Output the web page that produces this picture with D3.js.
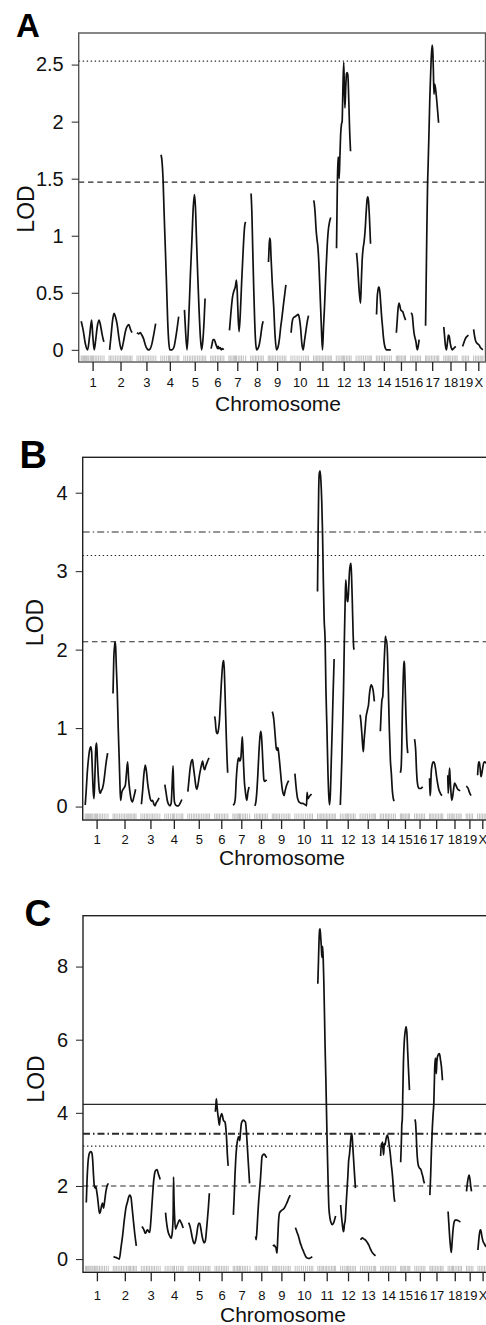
<!DOCTYPE html>
<html>
<head>
<meta charset="utf-8">
<script src="https://cdn.jsdelivr.net/npm/d3@7"></script>
<style>
body { margin: 0; background: #fff; }
svg { display: block; font-family: "Liberation Sans", Arial, Helvetica, sans-serif; }
</style>
</head>
<body>
<svg id="chart" width="486" height="1325"></svg>
<script>

// chromosomes and genetic map (cM)
var chromNames = ["1","2","3","4","5","6","7","8","9","10","11","12","13","14","15","16","17","18","19","X"];
var chromLengths = [114,115,94,90,109,66,84,63,88,88,89,74,76,75,46,50,66,67,32,47];
var gapCM = 25;

// marker positions (cM within each chromosome), drawn as the rug
var markers = [
  [0,5,11,16,22,27,33,38,45,51,57,62,70,78,86,95,104,114],
  [0,8,15,24,33,41,50,58,66,74,80,86,94,101,108,115],
  [0,9,17,26,33,41,50,58,66,75,84,94],
  [0,10,19,29,38,44,47,57,66,76,84,90],
  [0,9,18,27,35,44,52,60,69,77,86,94,101,109],
  [0,8,16,24,33,41,49,57,66],
  [0,7,15,22,29,33,38,47,55,63,72,84],
  [0,8,16,24,31,39,47,55,63],
  [0,7,13,20,28,36,45,54,63,72,80,88],
  [0,10,20,31,41,52,62,72,80,88],
  [0,8,16,22,29,37,44,52,60,68,76,83,89],
  [0,9,18,27,33,37,42,50,58,66,74],
  [0,10,19,28,37,46,55,64,70,76],
  [0,8,16,25,32,40,48,57,66,75],
  [0,6,12,18,25,33,40,46],
  [0,9,17,26,34,42,50],
  [0,6,13,21,29,37,45,53,60,66],
  [0,8,16,22,27,35,44,52,60,67],
  [0,8,16,24,32],
  [0,9,17,25,33,41,47]
];

// LOD profiles, one list of [cM, LOD] per chromosome
var lodA = [
  [[0,0.25],[10,0.17],[20,0.06],[32,0],[42,0.12],[52,0.26],[58,0.12],[65,0],[72,0.08],[80,0.2],[89,0.26],[96,0.22],[104,0.14],[113,0.07]],
  [[3,0],[10,0.12],[18,0.26],[25,0.32],[32,0.29],[40,0.23],[50,0.1],[62,0],[72,0.07],[83,0.17],[92,0.21],[99,0.22],[107,0.18],[115,0.15]],
  [[0,0.15],[8,0.14],[16,0.15],[24,0.13],[32,0.1],[42,0.04],[50,0.01],[58,0],[66,0.01],[74,0.05],[82,0.12],[93,0.23]],
  [[1,1.71],[6,1.65],[11,1.5],[16,1.22],[21,0.96],[28,0.6],[34,0.26],[40,0.06],[45,0],[55,0],[65,0.02],[72,0.08],[80,0.17],[89,0.29]],
  [[3,0.35],[9,0.15],[16,0],[24,0.25],[33,0.67],[40,0.95],[47,1.25],[53,1.36],[58,1.25],[63,0.98],[69,0.67],[76,0.35],[83,0.1],[89,0],[95,0.08],[101,0.25],[106,0.45]],
  [[2,0.01],[7,0.05],[12,0.09],[18,0.09],[24,0.06],[30,0.03],[35,0.01],[38,0.03],[42,0.01],[48,0.02],[52,0],[58,0.01],[65,0]],
  [[3,0.17],[10,0.32],[18,0.46],[26,0.52],[32,0.55],[38,0.61],[42,0.5],[46,0.3],[51,0.16],[58,0.35],[64,0.6],[70,0.82],[76,1.02],[80,1.1],[84,1.12]],
  [[2,1.37],[6,1.2],[10,0.9],[15,0.55],[20,0.25],[25,0.06],[30,0],[36,0.01],[42,0.04],[50,0.12],[56,0.2],[62,0.25]],
  [[1,0.77],[4,0.9],[7,0.98],[10,0.96],[14,0.8],[20,0.58],[27,0.38],[34,0.12],[41,0],[48,0.02],[56,0.1],[62,0.2],[68,0.28],[76,0.4],[83,0.5],[88,0.57]],
  [[1,0.15],[6,0.24],[12,0.28],[20,0.29],[28,0.3],[36,0.31],[42,0.28],[48,0.2],[55,0.05],[61,0],[68,0.08],[76,0.18],[82,0.25],[88,0.3]],
  [[1,1.31],[4,1.28],[8,1.2],[13,1.05],[18,0.96],[22,0.9],[27,0.75],[32,0.53],[36,0.35],[41,0.12],[45,0],[50,0.2],[55,0.38],[62,0.68],[68,0.9],[74,1.05],[80,1.12],[86,1.16]],
  [[1,0.89],[4,1.3],[8,1.69],[11,1.68],[14,1.5],[18,1.7],[22,1.9],[26,1.98],[29,2.0],[33,2.3],[37,2.52],[40,2.3],[43,2.12],[47,2.3],[51,2.42],[54,2.43],[58,2.4],[62,2.2],[66,1.95],[71,1.74]],
  [[2,0.85],[7,0.75],[12,0.6],[17,0.48],[22,0.41],[26,0.6],[30,0.78],[35,0.89],[40,0.95],[45,1.05],[50,1.2],[55,1.32],[58,1.34],[62,1.3],[66,1.18],[72,0.93]],
  [[1,0.31],[4,0.45],[8,0.52],[11,0.55],[14,0.55],[18,0.5],[22,0.4],[26,0.3],[31,0.2],[36,0.1],[41,0.04],[46,0.01],[51,0],[60,0],[72,0]],
  [[0,0.15],[4,0.25],[8,0.35],[13,0.41],[17,0.39],[22,0.35],[28,0.34],[33,0.33],[38,0.3],[42,0.28],[46,0.26]],
  [[1,0.32],[5,0.32],[9,0.3],[13,0.22],[18,0.14],[23,0.1],[27,0.07],[31,0.02],[34,0],[38,0.03],[43,0.09]],
  [[0,0.21],[3,0.6],[6,1.0],[10,1.45],[13,1.63],[17,1.9],[21,2.19],[25,2.4],[29,2.58],[33,2.67],[36,2.62],[39,2.45],[42,2.24],[45,2.33],[49,2.3],[54,2.22],[60,2.1],[65,1.99]],
  [[0,0.2],[4,0.12],[8,0.04],[13,0],[18,0.06],[23,0.13],[27,0.12],[32,0.06],[37,0.02],[42,0],[48,0.01],[54,0.02],[60,0.03]],
  [[2,0.03],[8,0.06],[14,0.09],[20,0.11],[26,0.12],[31,0.13]],
  [[0,0.18],[5,0.12],[10,0.08],[16,0.06],[22,0.05],[28,0.04],[34,0.02],[40,0.01],[46,0]]
];

var lodB = [
  [[0,0.02],[5,0.2],[10,0.42],[16,0.6],[22,0.72],[28,0.76],[32,0.7],[36,0.45],[40,0.2],[44,0.1],[48,0.35],[53,0.75],[57,0.81],[61,0.6],[65,0.4],[70,0.22],[75,0.17],[80,0.2],[86,0.23],[92,0.3],[98,0.42],[104,0.55],[112,0.68]],
  [[0,1.44],[4,1.9],[8,2.05],[10,2.1],[13,2.04],[17,1.75],[21,1.49],[26,1.0],[31,0.6],[35,0.25],[38,0.08],[44,0.18],[50,0.22],[56,0.24],[62,0.28],[67,0.42],[73,0.57],[78,0.35],[84,0.2],[90,0.1],[97,0.06],[104,0.12],[113,0.22]],
  [[2,0.03],[8,0.2],[14,0.4],[21,0.53],[27,0.45],[33,0.3],[40,0.18],[46,0.1],[52,0.07],[58,0.08],[64,0.03],[70,0.01],[76,0.05],[82,0.07],[90,0.11]],
  [[0,0.28],[6,0.18],[12,0.08],[18,0.03],[26,0.01],[32,0.05],[36,0.25],[41,0.52],[44,0.25],[48,0.06],[54,0.02],[60,0.01],[68,0.01],[76,0.04],[85,0.09]],
  [[0,0.19],[6,0.35],[12,0.5],[18,0.58],[23,0.6],[28,0.5],[34,0.38],[40,0.26],[45,0.22],[52,0.3],[58,0.4],[64,0.48],[70,0.55],[74,0.58],[79,0.5],[84,0.47],[90,0.52],[96,0.56],[102,0.6],[106,0.62]],
  [[0,1.15],[3,1.1],[6,1.0],[10,0.94],[15,0.93],[19,0.98],[24,1.1],[28,1.3],[33,1.55],[38,1.75],[43,1.85],[46,1.86],[50,1.6],[54,1.25],[58,0.9],[62,0.6],[65,0.43]],
  [[0,0.02],[6,0.03],[12,0.1],[17,0.35],[22,0.52],[26,0.6],[30,0.62],[35,0.58],[40,0.62],[44,0.78],[47,0.89],[50,0.75],[54,0.5],[58,0.3],[62,0.2],[66,0.12],[70,0.08],[75,0.18],[81,0.25]],
  [[1,0.01],[6,0.06],[11,0.2],[16,0.42],[21,0.68],[26,0.88],[30,0.96],[34,0.9],[38,0.72],[42,0.5],[46,0.34],[50,0.32],[55,0.33],[60,0.34]],
  [[0,1.21],[4,1.17],[8,1.1],[12,0.98],[16,0.85],[20,0.74],[24,0.72],[28,0.75],[32,0.68],[36,0.58],[40,0.47],[45,0.33],[50,0.22],[55,0.16],[59,0.14],[64,0.2],[70,0.26],[76,0.3],[82,0.33]],
  [[0,0.42],[4,0.3],[8,0.2],[12,0.12],[18,0.07],[25,0.05],[32,0.04],[40,0.04],[47,0.03],[54,0.02],[58,0.01],[61,0.18],[65,0.1],[70,0.12],[76,0.14],[83,0.16]],
  [[0,2.74],[3,3.5],[6,4.05],[9,4.25],[13,4.28],[17,4.15],[21,3.9],[25,3.5],[29,2.9],[33,2.4],[38,2.12],[42,1.5],[47,1.0],[52,0.45],[56,0.15],[60,0.02],[64,0.15],[69,0.6],[74,1.05],[78,1.45],[83,1.88]],
  [[0,0.02],[4,0.3],[8,0.64],[12,1.05],[16,1.49],[20,2.1],[24,2.6],[27,2.89],[31,2.75],[35,2.62],[38,2.61],[42,2.8],[46,3.0],[50,3.08],[53,3.1],[56,2.95],[60,2.6],[64,2.2],[67,2.02],[70,2.0]],
  [[0,1.17],[4,1.08],[8,0.95],[12,0.8],[16,0.7],[20,0.85],[25,1.0],[30,1.15],[34,1.2],[38,1.25],[42,1.3],[46,1.42],[50,1.5],[55,1.55],[60,1.53],[65,1.48],[71,1.34]],
  [[0,0.96],[4,1.2],[8,1.36],[12,1.4],[16,1.65],[20,1.9],[24,2.1],[26,2.17],[29,2.1],[32,2.12],[36,1.91],[40,1.5],[45,0.98],[50,0.6],[55,0.42],[60,0.2],[65,0.1],[69,0.07]],
  [[0,0.43],[4,0.5],[7,0.75],[10,1.2],[14,1.6],[17,1.8],[19,1.85],[21,1.8],[24,1.55],[28,1.15],[32,0.85],[37,0.68]],
  [[0,0.86],[3,0.8],[6,0.7],[9,0.5],[12,0.36],[16,0.27],[20,0.24],[25,0.23],[30,0.23],[36,0.24],[41,0.25]],
  [[0,0.36],[2,0.14],[5,0.2],[8,0.42],[12,0.52],[16,0.56],[20,0.57],[25,0.55],[30,0.48],[35,0.38],[40,0.3],[46,0.22],[52,0.18],[58,0.15],[62,0.14]],
  [[0,0.4],[2,0.17],[5,0.3],[9,0.49],[12,0.35],[16,0.18],[20,0.08],[24,0.12],[29,0.22],[34,0.3],[39,0.28],[44,0.25],[50,0.22],[56,0.21],[62,0.2]],
  [[0,0.26],[5,0.25],[10,0.23],[15,0.19],[20,0.16],[25,0.14]],
  [[0,0.4],[3,0.52],[6,0.57],[9,0.56],[13,0.48],[17,0.38],[21,0.42],[26,0.5],[31,0.56],[36,0.57],[42,0.55]]
];

var lodC = [
  [[4,1.55],[8,2.2],[12,2.6],[17,2.85],[22,2.92],[27,2.94],[32,2.9],[36,2.7],[40,2.3],[44,2.0],[48,1.94],[52,1.98],[56,1.85],[60,1.7],[65,1.45],[70,1.25],[75,1.3],[80,1.45],[85,1.53],[90,1.39],[96,1.6],[102,1.85],[108,2.0],[114,2.07]],
  [[1,0.07],[8,0.05],[15,0.04],[22,0.02],[30,0],[38,0.3],[46,0.62],[55,1.07],[63,1.4],[70,1.55],[77,1.7],[82,1.75],[88,1.7],[94,1.4],[100,1.07],[107,0.7],[115,0.36]],
  [[3,0.89],[8,0.85],[13,0.8],[18,0.72],[22,0.71],[27,0.78],[32,0.8],[37,0.75],[42,0.73],[47,1.0],[52,1.4],[57,1.8],[62,2.16],[68,2.38],[73,2.43],[79,2.45],[84,2.35],[90,2.25],[94,2.18]],
  [[2,1.27],[6,1.05],[11,0.85],[16,0.72],[22,0.64],[30,0.57],[36,0.75],[40,1.2],[42,2.24],[44,1.7],[47,1.2],[52,0.82],[58,0.9],[64,0.98],[72,1.07],[78,1.02],[84,0.95],[90,0.85]],
  [[2,1.0],[8,0.92],[14,0.78],[20,0.6],[26,0.47],[31,0.42],[37,0.5],[43,0.68],[48,0.88],[53,0.98],[58,0.98],[63,0.85],[68,0.68],[74,0.52],[80,0.44],[86,0.5],[91,0.75],[96,1.07],[101,1.4],[106,1.8]],
  [[2,4.03],[5,4.25],[7,4.38],[10,4.2],[13,4.03],[17,3.85],[22,3.66],[26,3.85],[30,3.93],[34,3.98],[38,3.9],[42,3.8],[46,3.77],[50,3.75],[54,3.6],[58,3.3],[62,2.85],[66,2.55]],
  [[1,1.21],[5,1.7],[9,2.3],[13,2.75],[18,3.1],[23,3.28],[28,3.35],[33,3.24],[37,3.5],[41,3.71],[46,3.78],[51,3.8],[56,3.78],[61,3.75],[66,3.5],[71,3.05],[76,2.6],[82,2.07]],
  [[3,0.62],[6,0.53],[10,0.8],[14,1.2],[18,1.55],[23,1.9],[27,2.16],[31,2.5],[35,2.8],[40,2.85],[45,2.87],[50,2.85],[55,2.8],[60,2.78]],
  [[2,0.35],[7,0.38],[12,0.35],[17,0.3],[22,0.16],[26,0.6],[30,1.05],[34,1.25],[39,1.3],[45,1.33],[52,1.36],[58,1.39],[64,1.45],[70,1.52],[76,1.6],[82,1.68],[88,1.75]],
  [[1,0.86],[5,0.8],[10,0.72],[15,0.65],[20,0.55],[25,0.45],[30,0.37],[35,0.29],[40,0.23],[45,0.16],[50,0.1],[55,0.05],[60,0.03],[66,0.02],[72,0.02],[78,0.04],[85,0.07]],
  [[0,7.53],[3,8.1],[6,8.7],[9,9.0],[11,9.03],[14,8.85],[17,8.6],[20,8.3],[22,8.25],[24,8.55],[27,8.2],[30,7.6],[33,6.8],[36,5.9],[40,4.98],[43,4.16],[47,3.1],[51,2.2],[55,1.44],[60,1.15],[66,1.0],[72,0.94],[78,0.98],[84,1.08],[89,1.18]],
  [[0,1.48],[4,1.2],[8,0.98],[12,0.8],[15,0.75],[19,0.95],[23,1.07],[27,1.44],[32,1.9],[36,2.25],[40,2.68],[44,2.85],[48,3.1],[52,3.35],[56,3.44],[60,3.15],[64,2.8],[68,2.44],[74,1.94]],
  [[0,0.53],[5,0.56],[10,0.58],[15,0.56],[20,0.54],[25,0.52],[30,0.49],[36,0.44],[42,0.38],[48,0.3],[55,0.22],[62,0.16],[69,0.12],[75,0.09]],
  [[0,2.82],[3,3.16],[6,3.07],[9,3.2],[12,3.0],[15,2.85],[18,3.16],[22,3.12],[26,3.25],[30,3.35],[34,3.39],[38,3.3],[43,3.1],[48,2.89],[53,2.6],[58,2.35],[63,2.0],[67,1.7],[71,1.57]],
  [[0,2.65],[3,3.1],[6,3.7],[8,3.8],[11,4.6],[14,5.4],[18,5.95],[22,6.2],[27,6.36],[31,6.2],[35,5.7],[39,5.2],[44,4.62]],
  [[0,3.82],[3,3.75],[6,3.5],[9,3.1],[12,2.8],[16,2.6],[20,2.52],[25,2.48],[30,2.45],[35,2.35],[40,2.25],[45,2.12],[48,2.07]],
  [[0,1.75],[4,2.3],[8,3.0],[12,3.55],[16,3.95],[20,4.3],[24,5.2],[27,5.5],[30,5.45],[32,5.07],[35,5.4],[38,5.53],[43,5.6],[48,5.62],[53,5.45],[58,5.25],[63,4.89]],
  [[0,1.3],[4,0.95],[8,0.6],[12,0.35],[16,0.18],[20,0.45],[24,0.75],[28,0.95],[33,1.05],[40,1.07],[46,1.06],[52,1.05],[58,1.03],[62,1.02]],
  [[0,1.85],[4,2.05],[8,2.2],[13,2.3],[17,2.2],[21,2.0],[25,1.85]],
  [[0,0.25],[4,0.5],[8,0.7],[12,0.8],[15,0.78],[20,0.62],[26,0.48],[32,0.42],[38,0.36],[44,0.33]]
];

// significance thresholds
var thresholdsA = [2.53, 1.47];
var thresholdKindsA = ["dotted", "dashed"];
var thresholdsB = [3.50, 3.20, 2.10];
var thresholdKindsB = ["dashdot", "dotted", "dashed"];
var thresholdsC = [4.23, 3.43, 3.09, 2.00];
var thresholdKindsC = ["solid", "dashdot", "dotted", "dashed"];

var yTicksA = [0, 0.5, 1, 1.5, 2, 2.5];
var yTicksB = [0, 1, 2, 3, 4];
var yTicksC = [0, 2, 4, 6, 8];

// cumulative map
var chromStart = [];
var acc = 0;
chromLengths.forEach(function(len) {
  chromStart.push(acc);
  acc += len + gapCM;
});
var genomeEnd = chromStart[chromStart.length - 1] + chromLengths[chromLengths.length - 1];
var chromMid = chromStart.map(function(s, i) { return s + chromLengths[i] / 2; });

var lineStyles = {
  solid:   { dash: null, width: 1.3 },
  dashdot: { dash: "7,3,1.5,3", width: 1.1 },
  dotted:  { dash: "1.4,2.6", width: 1.1 },
  dashed:  { dash: "5.5,3.8", width: 1.1 }
};

var plotWidth = 406.8;

var panels = [
  { letter: "A", lod: lodA, thr: thresholdsA, kinds: thresholdKindsA, yTicks: yTicksA,
    x0: 78.7, top: 33, bottom: 362, box: "#555", labelPad: 6.5,
    letterX: 16, letterY: 36.7, letterSize: 33,
    lodX: 26, lodY: 209, titleX: 278, titleY: 411 },
  { letter: "B", lod: lodB, thr: thresholdsB, kinds: thresholdKindsB, yTicks: yTicksB,
    x0: 82.7, top: 457.3, bottom: 820, box: "#222", labelPad: 6,
    letterX: 19.5, letterY: 468.3, letterSize: 38,
    lodX: 35, lodY: 622.5, titleX: 282, titleY: 865 },
  { letter: "C", lod: lodC, thr: thresholdsC, kinds: thresholdKindsC, yTicks: yTicksC,
    x0: 83, top: 915.7, bottom: 1272.3, box: "#222", labelPad: 9.5, thickDashDot: true,
    letterX: 24.5, letterY: 926, letterSize: 37,
    lodX: 36, lodY: 1079, titleX: 283, titleY: 1321.5 }
];

var svg = d3.select("#chart");

panels.forEach(function(p) {
  var g = svg.append("g").attr("class", "panel-" + p.letter);

  var x = d3.scaleLinear()
    .domain([-gapCM / 2, genomeEnd + gapCM / 2])
    .range([p.x0, p.x0 + plotWidth]);
  var maxLod = d3.max(p.lod, function(c) { return d3.max(c, function(d) { return d[1]; }); });
  var y = d3.scaleLinear()
    .domain([-0.04 * maxLod, 1.04 * maxLod])
    .range([p.bottom, p.top]);

  // threshold lines
  p.thr.forEach(function(v, i) {
    var st = lineStyles[p.kinds[i]];
    var w = st.width;
    if (p.thickDashDot && p.kinds[i] == "dashdot") w = 2;
    g.append("line")
      .attr("x1", p.x0).attr("x2", p.x0 + plotWidth)
      .attr("y1", y(v)).attr("y2", y(v))
      .attr("stroke", "#2a2a2a")
      .attr("stroke-width", w)
      .attr("stroke-dasharray", st.dash);
  });

  // rug of markers
  markers.forEach(function(ms, i) {
    g.selectAll(null).data(ms).enter().append("line")
      .attr("x1", function(d) { return x(chromStart[i] + d); })
      .attr("x2", function(d) { return x(chromStart[i] + d); })
      .attr("y1", p.bottom - 6.5)
      .attr("y2", p.bottom - 1)
      .attr("stroke", "#b0b0b0")
      .attr("stroke-width", 0.8);
  });

  // LOD curves
  p.lod.forEach(function(pts, i) {
    var line = d3.line()
      .x(function(d) { return x(chromStart[i] + d[0]); })
      .y(function(d) { return y(d[1]); })
      .curve(d3.curveMonotoneX);
    g.append("path")
      .attr("d", line(pts))
      .attr("fill", "none")
      .attr("stroke", "#111")
      .attr("stroke-width", 1.7)
      .attr("stroke-linejoin", "round");
  });

  // frame
  g.append("rect")
    .attr("x", p.x0).attr("y", p.top)
    .attr("width", plotWidth).attr("height", p.bottom - p.top)
    .attr("fill", "none")
    .attr("stroke", p.box)
    .attr("stroke-width", 1.4);

  // y axis
  var yAxis = g.append("g")
    .attr("transform", "translate(" + p.x0 + ",0)")
    .call(d3.axisLeft(y).tickValues(p.yTicks).tickSize(7).tickPadding(8).tickFormat(d3.format("")));
  yAxis.select(".domain").remove();
  yAxis.selectAll("line").attr("stroke", "#222");
  yAxis.selectAll("text")
    .attr("font-size", 20)
    .attr("font-family", "Liberation Sans, Arial, sans-serif")
    .attr("fill", "#111");

  // x axis (chromosome labels at mid points)
  var xAxis = g.append("g")
    .attr("transform", "translate(0," + p.bottom + ")")
    .call(d3.axisBottom(x).tickValues(chromMid).tickSize(9).tickPadding(p.labelPad)
      .tickFormat(function(d, i) { return chromNames[i]; }));
  xAxis.select(".domain").remove();
  xAxis.selectAll("line").attr("stroke", "#222").attr("stroke-width", 1.3);
  xAxis.selectAll("text")
    .attr("font-size", 13)
    .attr("font-family", "Liberation Sans, Arial, sans-serif")
    .attr("fill", "#111");

  // titles
  g.append("text")
    .attr("x", p.titleX).attr("y", p.titleY)
    .attr("text-anchor", "middle")
    .attr("font-size", 21)
    .attr("fill", "#111")
    .text("Chromosome");

  g.append("text")
    .attr("transform", "translate(" + p.lodX + "," + p.lodY + ") rotate(-90)")
    .attr("text-anchor", "middle")
    .attr("dominant-baseline", "central")
    .attr("font-size", 23)
    .attr("fill", "#111")
    .text("LOD");

  g.append("text")
    .attr("x", p.letterX).attr("y", p.letterY)
    .attr("font-size", p.letterSize)
    .attr("font-weight", "bold")
    .attr("fill", "#000")
    .text(p.letter);
});

</script>
</body>
</html>
